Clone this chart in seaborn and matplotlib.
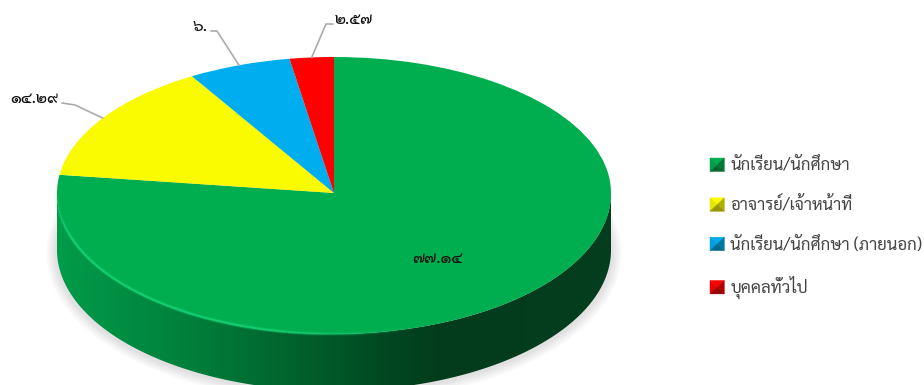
import numpy as np
import matplotlib
matplotlib.use('Agg')
import matplotlib.pyplot as plt
from matplotlib.collections import LineCollection
from matplotlib.patches import Ellipse, Polygon, Patch
from matplotlib.legend_handler import HandlerBase
from matplotlib import font_manager as fm
import seaborn as sns

categories = ['นักเรียน/นักศึกษา', 'อาจารย์/เจ้าหน้าที่', 'นักเรียน/นักศึกษา (ภายนอก)', 'บุคคลทั่วไป']
values = [77.14, 14.29, 6.0, 2.57]
value_labels = ['๗๗.๑๔', '๑๔.๒๙', '๖.', '๒.๕๗']
slice_colors = ['#00AE4F', '#FAFA00', '#00ADEF', '#FF0000']

W, H = 924, 385
CX, CY, RX, RY, DEPTH = 334.0, 193.0, 277.0, 136.0, 57.0
FRONT = 141.0 / 136.0  # the near half of the disc looks slightly taller (perspective)

sns.set_theme(style='white')
avail = {f.name for f in fm.fontManager.ttflist}
thai = [n for n in ['Sarabun', 'Noto Sans Thai', 'Noto Sans Thai Looped', 'Anuphan'] if n in avail]
plt.rcParams['font.family'] = thai + ['DejaVu Sans']

fig = plt.figure(figsize=(W / 100, H / 100), dpi=100)
ax = fig.add_axes([0, 0, 1, 1])
palette = sns.color_palette(slice_colors)

def to_data(px, py):
    return (px - CX) / RX, (CY - py) / RY

xlim = ((0 - CX) / RX, (W - CX) / RX)
ylim = ((CY - H) / RY, CY / RY)

# Shadow
for k in range(10):
    cx, cy = to_data(CX, CY + DEPTH + 3)
    ax.add_patch(Ellipse((cx, cy), 2 * (RX + 11 - k) / RX, 2 * (RY * FRONT + 9 - k) / RY,
                         fc='#000000', ec='none', alpha=0.012, zorder=1))

# Side wall of the front half: horizontal gradient clipped to the wall outline
stops_x = [58, 130, 200, 270, 330, 390, 440, 612]
stops_g = [(0, 156, 74), (0, 140, 66), (0, 125, 58), (0, 105, 48), (0, 88, 40), (0, 70, 33), (3, 60, 28), (3, 62, 30)]
grad_px = np.arange(0, W)
grad = np.array([[np.interp(grad_px, stops_x, [s[i] for s in stops_g]) / 255 for i in range(3)]])
grad = np.transpose(grad, (0, 2, 1))
theta = np.linspace(np.pi, 2 * np.pi, 361)
dz = DEPTH / RY
front_arc = np.c_[np.cos(theta), np.sin(theta) * FRONT]
outline = np.r_[front_arc, (front_arc - [0, dz])[::-1]]
wall = Polygon(outline, closed=True, transform=ax.transData, fc='none', ec='none')
ax.add_patch(wall)
img = ax.imshow(grad, extent=(xlim[0], xlim[1], ylim[0], ylim[1]), aspect='auto',
                interpolation='bilinear', zorder=2)
img.set_clip_path(wall)

# Top face
ax.add_patch(Polygon(front_arc, closed=True, fc=slice_colors[0], ec='none', zorder=3))
wedges, _ = ax.pie(values, colors=palette, startangle=90, counterclock=False,
                   radius=1, center=(0, 0), wedgeprops={'linewidth': 0})
for w in wedges:
    w.set_zorder(3)

# Rim highlight
t2 = np.linspace(np.pi * 0.99, 1.60 * np.pi, 120)
pts = np.c_[np.cos(t2), np.sin(t2) * np.where(np.sin(t2) < 0, FRONT, 1)]
segs = np.stack([pts[:-1], pts[1:]], axis=1)
frac = np.linspace(0, 1, len(segs))
alphas = np.clip(np.minimum(frac / 0.2, (1 - frac) / 0.3), 0, 1)
for lw, scale in [(3.0, 0.25), (1.5, 0.9)]:
    rim = [(0.08, 0.82, 0.45, a * scale) for a in alphas]
    ax.add_collection(LineCollection(segs, colors=rim, linewidths=lw, zorder=4))

ax.set_aspect('auto')
ax.set_xlim(*xlim)
ax.set_ylim(*ylim)
ax.axis('off')

# Value labels and leader lines
label_pos = [(437, 259), (34, 99), (200, 27), (354, 20)]
elbows = [None, [(75, 105), (62, 103)], [(217, 31), (211, 31)], [(326, 24), (333, 24)]]
cum = np.cumsum(values)
for i, (txt, pos) in enumerate(zip(value_labels, label_pos)):
    mid = (cum[i] - values[i] / 2) / sum(values) * 2 * np.pi
    if elbows[i] is not None:
        start = (np.sin(mid), np.cos(mid))
        path = [start] + [to_data(*p) for p in elbows[i]]
        xs, ys = zip(*path)
        ax.plot(xs, ys, color='#ABABAB', lw=1.2, zorder=5, solid_capstyle='round')
    x, y = to_data(*pos)
    ax.text(x, y, txt, ha='center', va='center', fontsize=11.5, color='#111111', zorder=6,
            fontweight='medium')

# Bevelled legend keys
class BevelHandler(HandlerBase):
    def create_artists(self, legend, orig, xd, yd, w, h, fs, trans):
        c = np.array(matplotlib.colors.to_rgb(orig.get_facecolor()))
        x0, y0 = -xd, -yd
        x1, y1 = x0 + w, y0 + h
        m = ((x0 + x1) / 2, (y0 + y1) / 2)
        tris = [([(x0, y1), (x1, y1), m], 1.0), ([(x0, y0), (x0, y1), m], 0.92),
                ([(x1, y0), (x1, y1), m], 0.7), ([(x0, y0), (x1, y0), m], 0.6)]
        return [Polygon(p, closed=True, fc=c * f, ec=c * f, lw=0.3, transform=trans) for p, f in tris]

handles = [Patch(facecolor=c) for c in slice_colors]
leg = ax.legend(handles, categories, handler_map={Patch: BevelHandler()},
                loc='upper left', bbox_to_anchor=(710 / W, 1 - 157.5 / H),
                bbox_transform=ax.transAxes, frameon=False, fontsize=12,
                labelcolor='#444444', labelspacing=1.34, handlelength=0.86,
                handleheight=0.86, handletextpad=0.35, borderpad=0, borderaxespad=0)

fig.savefig('out.png', dpi=100, facecolor='white')
